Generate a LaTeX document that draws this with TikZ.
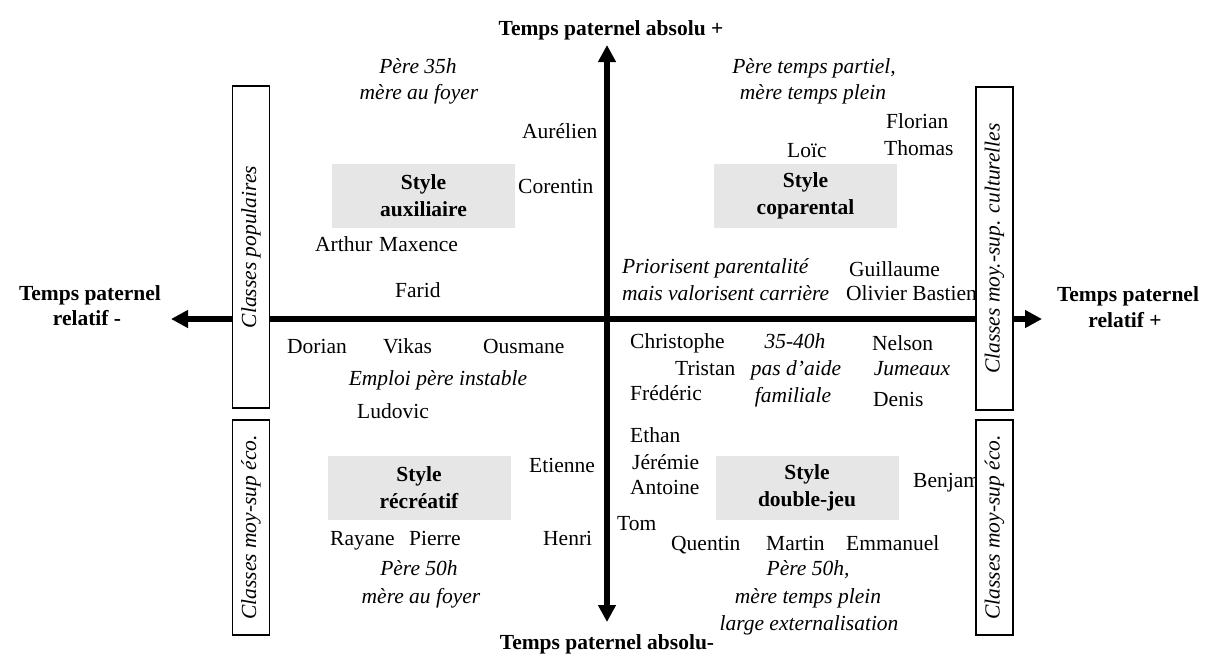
\documentclass[tikz,border=0pt]{standalone}
\usepackage{fontspec}
\setmainfont{Liberation Serif}
\usetikzlibrary{arrows.meta}
\definecolor{boxgray}{HTML}{E6E6E6}
\tikzset{
 lbl/.style={font=\fontsize{21.5}{26.5}\selectfont, inner sep=0pt, anchor=base west},
 note/.style={font=\fontsize{21.5}{26.5}\selectfont\itshape, inner sep=0pt, anchor=base},
 ttl/.style={font=\fontsize{21.5}{26.5}\selectfont\bfseries, inner sep=0pt, anchor=base},
 stylebox/.style={fill=boxgray, minimum width=183pt, minimum height=64pt, align=center, font=\fontsize{21.5}{27}\selectfont\bfseries, inner sep=0pt},
 classbox/.style={draw, line width=1.5pt, fill=white, rotate=90, minimum height=37pt, inner sep=0pt, font=\fontsize{21.5}{26.5}\selectfont\itshape},
 axis/.style={line width=6pt, {Triangle[length=17pt,width=17pt]}-{Triangle[length=17pt,width=17pt]}}
}
\begin{document}
\begin{tikzpicture}[x=1pt,y=-1pt]
\useasboundingbox (0,0) rectangle (1207,654);
% axes
\coordinate (L) at (171,319);
\coordinate (R) at (1042,319);
\coordinate (T) at (607,45);
\coordinate (B) at (607,622);
\draw[axis] (L) -- (R);
\draw[axis] (B) -- (T);
% axis titles
\node[ttl] (ttop) at (611,35.5) {Temps paternel absolu +};
\node[ttl] (tbot) at (607,649) {Temps paternel absolu-};
\node[ttl] (tl1) at (90,300) {Temps paternel};
\node[ttl] (tl2) at (87,325) {relatif -};
\node[ttl] (tr1) at (1128,301) {Temps paternel};
\node[ttl] (tr2) at (1125,327) {relatif +};
% style boxes
\node[stylebox] (aux) at (423.5,196) {Style\\auxiliaire};
\node[stylebox] (copa) at (805.5,196) {Style\\coparental};
\node[stylebox] (recr) at (419,487.5) {Style\\récréatif};
\node[stylebox] (dbl) at (807,487.5) {Style\\double-jeu};
% names
\node[lbl] (aurelien) at (522,138) {Aurélien};
\node[lbl] (corentin) at (518,193) {Corentin};
\node[lbl] (arthur) at (315,251) {Arthur};
\node[lbl] (maxence) at (379,251) {Maxence};
\node[lbl] (farid) at (395,297) {Farid};
\node[lbl] (loic) at (787,157) {Loïc};
\node[lbl] (florian) at (886,128) {Florian};
\node[lbl] (thomas) at (884,155) {Thomas};
\node[lbl] (guillaume) at (849,276) {Guillaume};
\node[lbl] (olivier) at (846,300) {Olivier Bastien};
\node[lbl] (dorian) at (287,353) {Dorian};
\node[lbl] (vikas) at (383,353) {Vikas};
\node[lbl] (ousmane) at (483,353) {Ousmane};
\node[lbl] (ludovic) at (357,418) {Ludovic};
\node[lbl] (etienne) at (529,472) {Etienne};
\node[lbl] (rayane) at (330,545) {Rayane};
\node[lbl] (pierre) at (409,545) {Pierre};
\node[lbl] (henri) at (543,545) {Henri};
\node[lbl] (christophe) at (630,348) {Christophe};
\node[lbl] (nelson) at (872,350) {Nelson};
\node[lbl] (tristan) at (675,375) {Tristan};
\node[lbl] (frederic) at (630,400) {Frédéric};
\node[lbl] (denis) at (873,406) {Denis};
\node[lbl] (ethan) at (630,442) {Ethan};
\node[lbl] (jeremie) at (632,469) {Jérémie};
\node[lbl] (antoine) at (630,494) {Antoine};
\node[lbl] (tom) at (617,530) {Tom};
\node[lbl] (benjam) at (913,487) {Benjam};
\node[lbl] (quentin) at (671,550) {Quentin};
\node[lbl] (martin) at (766,550) {Martin};
\node[lbl] (emmanuel) at (846,550) {Emmanuel};
% notes
\node[note] (n1a) at (418,73) {Père 35h};
\node[note] (n1b) at (419,99) {mère au foyer};
\node[note] (n2a) at (814,73) {Père temps partiel,};
\node[note] (n2b) at (813,99) {mère temps plein};
\node[note, anchor=base west] (n3a) at (622,273) {Priorisent parentalité};
\node[note, anchor=base west] (n3b) at (622,300) {mais valorisent carrière};
\node[note] (n4) at (438,385) {Emploi père instable};
\node[note] (n5a) at (795,348) {35-40h};
\node[note] (n5b) at (796,375) {pas d’aide};
\node[note] (n5c) at (793,402) {familiale};
\node[note] (jumeaux) at (912,375) {Jumeaux};
\node[note] (n6a) at (419,575) {Père 50h};
\node[note] (n6b) at (421,603) {mère au foyer};
\node[note] (n7a) at (808,575) {Père 50h,};
\node[note] (n7b) at (808,603) {mère temps plein};
\node[note] (n7c) at (809,630) {large externalisation};
% class boxes
\node[classbox, minimum width=322pt] (cpop) at (251,247) {Classes populaires};
\node[classbox, minimum width=215pt] (ceco1) at (251,527.5) {Classes moy-sup éco.};
\node[classbox, minimum width=323pt] (ccult) at (994.5,248.5) {Classes moy.-sup. culturelles};
\node[classbox, minimum width=215pt] (ceco2) at (994.5,527.5) {Classes moy-sup éco.};
\end{tikzpicture}
\end{document}
